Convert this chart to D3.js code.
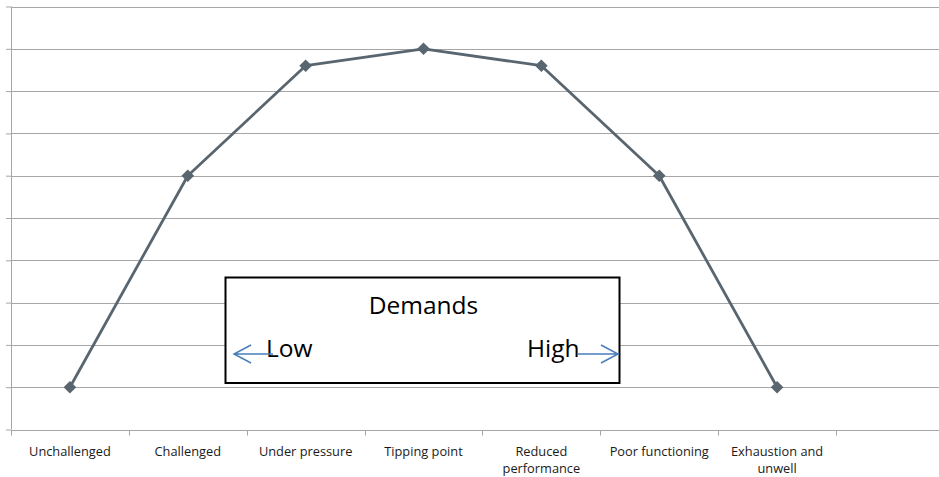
<!DOCTYPE html>
<html>
<head>
<meta charset="utf-8">
<script src="https://cdn.jsdelivr.net/npm/d3@7"></script>
<style>
    body { margin: 0; background: #fff; }
    svg { display: block; font-family: "Open Sans", sans-serif; }
</style>
</head>
<body>
<div id="chart"></div>
<script>
// Stages along the x axis
const stages = ["Unchallenged", "Challenged", "Under pressure", "Tipping point",
    "Reduced performance", "Poor functioning", "Exhaustion and unwell"];
// Performance level for each stage
const performance = [1, 6, 8.6, 9, 8.6, 6, 1];
// Gridline levels (no labels shown)
const yTicks = d3.range(0, 11);

const width = 939, height = 477;
const plotLeft = 11, plotTop = 6.5, plotBottom = 429.5;
const band = 117.86;

const svg = d3.select("#chart")
    .append("svg")
    .attr("width", width)
    .attr("height", height);

// Scales
const x = d3.scaleBand()
    .domain(stages)
    .range([plotLeft, plotLeft + band * stages.length])
    .padding(0);

const y = d3.scaleLinear()
    .domain([0, 10])
    .range([plotBottom, plotTop]);

// Horizontal gridlines with small outer ticks on the left
const yAxis = svg.append("g")
    .attr("transform", "translate(" + plotLeft + ",0)")
    .call(d3.axisLeft(y).tickValues(yTicks).tickSize(5).tickFormat(""));
yAxis.selectAll("line").attr("stroke", "#a6a6a6");
yAxis.select(".domain").attr("stroke", "#a6a6a6").attr("d", "M0.5," + plotTop + "V" + plotBottom);

svg.append("g")
    .selectAll("line")
    .data(yTicks)
    .enter()
    .append("line")
    .attr("x1", plotLeft)
    .attr("x2", width)
    .attr("y1", d => Math.round(y(d)) + 0.5)
    .attr("y2", d => Math.round(y(d)) + 0.5)
    .attr("stroke", "#a6a6a6")
    .attr("stroke-width", 1);

// X axis ticks at band boundaries
const boundaries = stages.map(s => x(s)).concat([x.range()[1]]);
svg.append("g")
    .selectAll("line")
    .data(boundaries)
    .enter()
    .append("line")
    .attr("x1", d => Math.round(d) + 0.5)
    .attr("x2", d => Math.round(d) + 0.5)
    .attr("y1", Math.round(plotBottom) + 0.5)
    .attr("y2", Math.round(plotBottom) + 5.5)
    .attr("stroke", "#a6a6a6");

// X axis labels (wrapped)
const labels = svg.append("g")
    .selectAll("text")
    .data(stages)
    .enter()
    .append("text")
    .attr("x", d => x(d) + x.bandwidth() / 2)
    .attr("y", 455.5)
    .attr("text-anchor", "middle")
    .attr("fill", "#1a1a1a")
    .style("font-size", "12.8px");

labels.each(function (d) {
    const t = d3.select(this);
    const words = d.split(" ");
    let line = [];
    let tspan = t.append("tspan").attr("x", t.attr("x")).attr("dy", 0);
    words.forEach(w => {
        line.push(w);
        tspan.text(line.join(" "));
        if (tspan.node().getComputedTextLength() > 112 && line.length > 1) {
            line.pop();
            tspan.text(line.join(" "));
            line = [w];
            tspan = t.append("tspan").attr("x", t.attr("x")).attr("dy", 17).text(w);
        }
    });
});

// The line
const lineGen = d3.line()
    .x((d, i) => x(stages[i]) + x.bandwidth() / 2)
    .y(d => y(d));

svg.append("path")
    .datum(performance)
    .attr("fill", "none")
    .attr("stroke", "#59666f")
    .attr("stroke-width", 2.8)
    .attr("stroke-linejoin", "round")
    .attr("d", lineGen);

// Diamond markers
svg.append("g")
    .selectAll("path")
    .data(performance)
    .enter()
    .append("path")
    .attr("d", d3.symbol().type(d3.symbolSquare).size(80))
    .attr("transform", (d, i) => "translate(" + (x(stages[i]) + x.bandwidth() / 2) + "," + y(d) + ") rotate(45)")
    .attr("fill", "#59666f");

// Demands annotation box
const box = svg.append("g");
box.append("rect")
    .attr("x", 225.5)
    .attr("y", 277.5)
    .attr("width", 394)
    .attr("height", 105.5)
    .attr("fill", "#fff")
    .attr("stroke", "#000")
    .attr("stroke-width", 2);

box.append("text")
    .attr("x", 423.5)
    .attr("y", 314)
    .attr("text-anchor", "middle")
    .style("font-size", "24.5px")
    .text("Demands");

box.append("text")
    .attr("x", 266)
    .attr("y", 356.5)
    .style("font-size", "24.5px")
    .text("Low");

box.append("text")
    .attr("x", 527)
    .attr("y", 356.5)
    .style("font-size", "24.5px")
    .text("High");

// Blue arrows
const arrowColor = "#4a7ebb";
box.append("path")
    .attr("d", "M273,354H234M251,345L234,354L251,363")
    .attr("fill", "none")
    .attr("stroke", arrowColor)
    .attr("stroke-width", 1.5);

box.append("path")
    .attr("d", "M577,354H618M601,345L618,354L601,363")
    .attr("fill", "none")
    .attr("stroke", arrowColor)
    .attr("stroke-width", 1.5);
</script>
</body>
</html>
